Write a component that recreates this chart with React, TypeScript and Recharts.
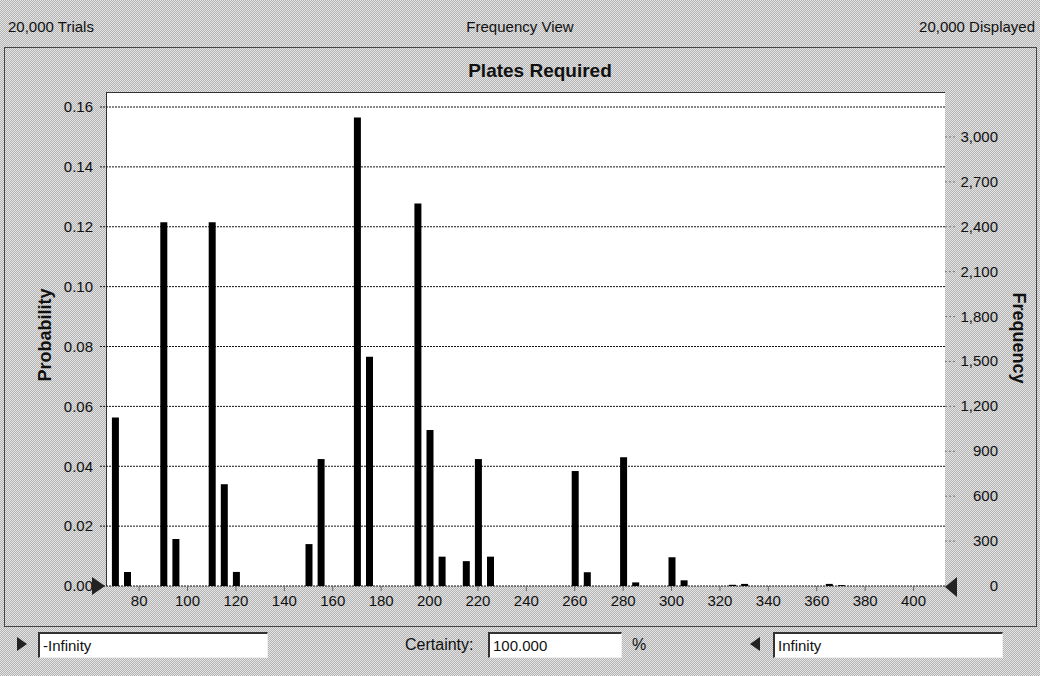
import React from "react";
import { ComposedChart, Bar, XAxis, YAxis, CartesianGrid } from "recharts";

// Plates required (bin centres) and their probability from 20,000 trials
const plates = [
  70, 75, 90, 95, 110, 115, 120, 150, 155, 170, 175, 195, 200, 205, 215, 220,
  225, 260, 265, 280, 285, 300, 305, 325, 330, 365, 370,
];
const probability = [
  0.0563, 0.0047, 0.1215, 0.0157, 0.1215, 0.034, 0.0047, 0.014, 0.0424,
  0.1565, 0.0766, 0.1278, 0.0521, 0.0098, 0.0083, 0.0424, 0.0098, 0.0384,
  0.0046, 0.043, 0.0012, 0.0096, 0.0019, 0.0004, 0.0007, 0.0007, 0.0003,
];

const probTicks = [0, 0.02, 0.04, 0.06, 0.08, 0.1, 0.12, 0.14, 0.16];
const freqTicks = [0, 300, 600, 900, 1200, 1500, 1800, 2100, 2400, 2700, 3000];
const plateTicks = [
  80, 100, 120, 140, 160, 180, 200, 220, 240, 260, 280, 300, 320, 340, 360,
  380, 400,
];

const FONT = "'Liberation Sans', Arial, sans-serif";
const DITHER = "repeating-conic-gradient(#b4b4b4 0 25%, #e4e4e4 0 50%)";

const data = plates.map((p, i) => ({ plates: p, probability: probability[i] }));

const FreqTick = (props: any) => (
  <text
    x={998}
    y={props.y}
    dy={5}
    textAnchor="end"
    fontSize={15}
    fontFamily={FONT}
    fill="#111"
  >
    {Number(props.payload.value).toLocaleString("en-US")}
  </text>
);

const inputBox = (left: number, width: number, text: string) => (
  <div
    style={{
      position: "absolute",
      left,
      top: 632,
      width,
      height: 26,
      background: "#fff",
      borderTop: "2px solid #333",
      borderLeft: "2px solid #333",
      borderRight: "1px solid #eee",
      borderBottom: "1px solid #eee",
      boxSizing: "border-box",
      fontSize: 15,
      lineHeight: "23px",
      paddingLeft: 3,
      color: "#111",
    }}
  >
    {text}
  </div>
);

export default function App() {
  return (
    <div
      style={{
        position: "absolute",
        left: 0,
        top: 0,
        width: 1040,
        height: 676,
        backgroundImage: DITHER,
        backgroundSize: "2px 2px",
        fontFamily: FONT,
        overflow: "hidden",
      }}
    >
      {/* header row */}
      <div style={{ position: "absolute", left: 8, top: 18, fontSize: 15, color: "#111" }}>
        20,000 Trials
      </div>
      <div
        style={{
          position: "absolute",
          left: 0,
          width: 1040,
          top: 18,
          textAlign: "center",
          fontSize: 15,
          color: "#111",
        }}
      >
        Frequency View
      </div>
      <div style={{ position: "absolute", right: 5, top: 18, fontSize: 15, color: "#111" }}>
        20,000 Displayed
      </div>

      {/* chart panel */}
      <div
        style={{
          position: "absolute",
          left: 4,
          top: 47,
          width: 1033,
          height: 580,
          border: "1px solid #444",
          boxSizing: "border-box",
        }}
      />
      <div
        style={{
          position: "absolute",
          left: 0,
          width: 1080,
          top: 60,
          textAlign: "center",
          fontSize: 19,
          fontWeight: "bold",
          color: "#111",
        }}
      >
        Plates Required
      </div>
      <div
        style={{
          position: "absolute",
          left: 106,
          top: 92,
          width: 839,
          height: 494,
          background: "#fff",
          borderTop: "1px solid #333",
          borderLeft: "1px solid #333",
          boxSizing: "border-box",
        }}
      />
      <div
        style={{
          position: "absolute",
          left: 45,
          top: 335,
          transform: "translate(-50%, -50%) rotate(-90deg)",
          fontSize: 18,
          fontWeight: "bold",
          color: "#111",
          whiteSpace: "nowrap",
        }}
      >
        Probability
      </div>
      <div
        style={{
          position: "absolute",
          left: 1018,
          top: 338,
          transform: "translate(-50%, -50%) rotate(90deg)",
          fontSize: 18,
          fontWeight: "bold",
          color: "#111",
          whiteSpace: "nowrap",
        }}
      >
        Frequency
      </div>

      <div style={{ position: "absolute", left: 0, top: 0 }}>
        <ComposedChart
          width={1040}
          height={640}
          data={data}
          margin={{ top: 107, right: 0, bottom: 0, left: 0 }}
        >
          <CartesianGrid
            vertical={false}
            stroke="#111"
            strokeDasharray="2 1"
            yAxisId="prob"
          />
          <XAxis
            dataKey="plates"
            type="number"
            domain={[66.3, 413]}
            ticks={plateTicks}
            allowDataOverflow
            height={54}
            axisLine={false}
            tickSize={5}
            tickMargin={4}
            tickLine={{ stroke: "#666" }}
            tick={{ fontSize: 15, fontFamily: FONT, fill: "#111" }}
          />
          <YAxis
            yAxisId="prob"
            domain={[0, 0.16]}
            ticks={probTicks}
            allowDataOverflow
            width={106}
            axisLine={false}
            tickSize={6}
            tickMargin={7}
            tickLine={{ stroke: "#111", strokeDasharray: "2 1" }}
            tickFormatter={(v: number) => v.toFixed(2)}
            tick={{ fontSize: 15, fontFamily: FONT, fill: "#111" }}
          />
          <YAxis
            yAxisId="freq"
            orientation="right"
            domain={[0, 3200]}
            ticks={freqTicks}
            allowDataOverflow
            width={95}
            axisLine={false}
            tickSize={10}
            tickLine={{ stroke: "#777", strokeDasharray: "2 2" }}
            tick={FreqTick}
          />
          <Bar
            yAxisId="prob"
            dataKey="probability"
            fill="#000"
            barSize={7}
            isAnimationActive={false}
          />
        </ComposedChart>
      </div>

      {/* limit markers */}
      <svg
        width={1040}
        height={676}
        style={{ position: "absolute", left: 0, top: 0, pointerEvents: "none" }}
      >
        <polygon points="92,577 105,586 92,595" fill="#222" />
        <polygon points="957,577 945,587 957,597" fill="#222" />
        <polygon points="17,637 27,644 17,651" fill="#222" />
        <polygon points="760,637 750,644 760,651" fill="#222" />
      </svg>

      {/* bottom controls */}
      {inputBox(38, 230, "-Infinity")}
      <div style={{ position: "absolute", left: 405, top: 636, fontSize: 16, color: "#111" }}>
        Certainty:
      </div>
      {inputBox(488, 134, "100.000")}
      <div style={{ position: "absolute", left: 632, top: 636, fontSize: 16, color: "#111" }}>
        %
      </div>
      {inputBox(773, 230, "Infinity")}
    </div>
  );
}
